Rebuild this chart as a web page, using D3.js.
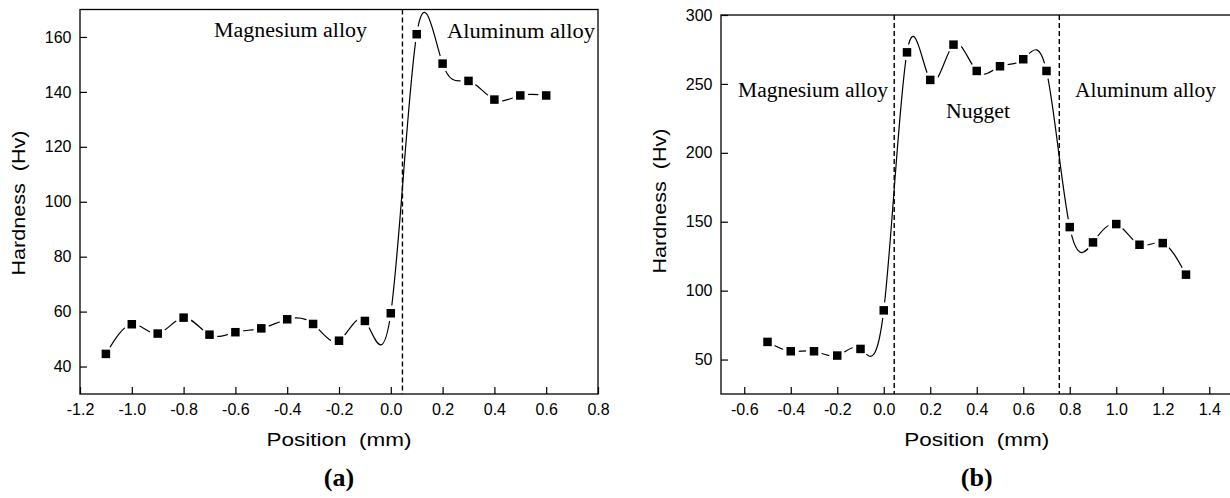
<!DOCTYPE html>
<html>
<head>
<meta charset="utf-8">
<script src="https://cdn.jsdelivr.net/npm/d3@7"></script>
<style>
    html, body { margin: 0; padding: 0; background: #fff; }
    svg { display: block; }
    .tick text { font-family: "Liberation Sans", Arial, sans-serif; font-size: 16px; fill: #000; }
    .tick line { stroke: #000; stroke-width: 1.2; }
    .frame { fill: none; stroke: #000; stroke-width: 1.3; }
    .curve { fill: none; stroke: #000; stroke-width: 1.2; }
    .halo { fill: #fff; }
    .marker { fill: #000; }
    .boundary { stroke: #000; stroke-width: 1.4; stroke-dasharray: 5,3; }
    .zone { font-family: "Liberation Serif", "Times New Roman", serif; font-size: 20px; fill: #000; }
    .title { font-family: "Liberation Sans", Arial, sans-serif; font-size: 19px; fill: #000; white-space: pre; }
    .caption { font-family: "Liberation Serif", "Times New Roman", serif; font-size: 26px; font-weight: bold; fill: #000; }
</style>
</head>
<body>
<div id="figure"></div>
<script>
// panel (a): magnesium / aluminum joint
const positionA = [-1.1, -1.0, -0.9, -0.8, -0.7, -0.6, -0.5, -0.4, -0.3, -0.2, -0.1, 0.0, 0.1, 0.2, 0.3, 0.4, 0.5, 0.6];
const hardnessA = [44.6, 55.4, 52.0, 57.8, 51.6, 52.5, 53.9, 57.2, 55.5, 49.4, 56.6, 59.4, 161.0, 150.3, 144.0, 137.2, 138.7, 138.7];
const xTicksA = [-1.2, -1.0, -0.8, -0.6, -0.4, -0.2, 0.0, 0.2, 0.4, 0.6, 0.8];
const yTicksA = [40, 60, 80, 100, 120, 140, 160];
const boundariesA = [0.045];
const zonesA = ["Magnesium alloy", "Aluminum alloy"];

// panel (b): with nugget
const positionB = [-0.5, -0.4, -0.3, -0.2, -0.1, 0.0, 0.1, 0.2, 0.3, 0.4, 0.5, 0.6, 0.7, 0.8, 0.9, 1.0, 1.1, 1.2, 1.3];
const hardnessB = [62.8, 56.0, 56.0, 52.9, 57.7, 85.7, 272.9, 252.9, 278.5, 259.4, 262.8, 267.9, 259.4, 146.1, 135.0, 148.3, 133.3, 134.5, 111.6];
const xTicksB = [-0.6, -0.4, -0.2, 0.0, 0.2, 0.4, 0.6, 0.8, 1.0, 1.2, 1.4];
const yTicksB = [50, 100, 150, 200, 250, 300];
const boundariesB = [0.045, 0.755];
const zonesB = ["Magnesium alloy", "Nugget", "Aluminum alloy"];

const xTitle = "Position  (mm)";
const yTitle = "Hardness  (Hv)";

(function () {
    "use strict";

    const width = 1230;
    const height = 498;

    const panels = [
        {
            left: 80, right: 598, top: 9.5, bottom: 394,
            xDomain: [-1.2, 0.8], yDomain: [30, 170],
            x: positionA, y: hardnessA,
            xTicks: xTicksA, yTicks: yTicksA,
            boundaries: boundariesA,
            zones: zonesA,
            zoneLayout: [
                { x: 214, y: 37, w: 153 },
                { x: 447, y: 38, w: 148 }
            ],
            yTitleAt: { x: 25, y: 203 },
            caption: "(a)"
        },
        {
            left: 721, right: 1232.5, top: 15, bottom: 394,
            xDomain: [-0.7, 1.5], yDomain: [25, 300],
            x: positionB, y: hardnessB,
            xTicks: xTicksB, yTicks: yTicksB,
            boundaries: boundariesB,
            zones: zonesB,
            zoneLayout: [
                { x: 738, y: 97, w: 150 },
                { x: 946, y: 118, w: 64 },
                { x: 1075, y: 97, w: 141 }
            ],
            yTitleAt: { x: 666, y: 201 },
            caption: "(b)"
        }
    ];

    function drawPanel(svg, panel) {
        const xScale = d3.scaleLinear()
            .domain(panel.xDomain)
            .range([panel.left, panel.right]);

        const yScale = d3.scaleLinear()
            .domain(panel.yDomain)
            .range([panel.bottom, panel.top]);

        const canvas = svg.append("g")
            .attr("class", "panel");

        const xAxis = d3.axisBottom(xScale)
            .tickValues(panel.xTicks)
            .tickFormat(d => d.toFixed(1))
            .tickSizeInner(-7)
            .tickSizeOuter(0)
            .tickPadding(10);

        canvas.append("g")
            .attr("class", "axis x-axis")
            .attr("transform", `translate(0,${panel.bottom})`)
            .call(xAxis)
            .call(g => g.select(".domain").remove());

        const yAxis = d3.axisLeft(yScale)
            .tickValues(panel.yTicks)
            .tickFormat(d3.format("d"))
            .tickSizeInner(-7)
            .tickSizeOuter(0)
            .tickPadding(8.5);

        canvas.append("g")
            .attr("class", "axis y-axis")
            .attr("transform", `translate(${panel.left},0)`)
            .call(yAxis)
            .call(g => g.select(".domain").remove());

        canvas.selectAll(".axis")
            .attr("font-size", null)
            .attr("font-family", null);

        const points = panel.x.map((d, i) => ({ x: d, y: panel.y[i] }));

        const line = d3.line()
            .x(d => xScale(d.x))
            .y(d => yScale(d.y))
            .curve(d3.curveNatural);

        canvas.append("path")
            .attr("class", "curve")
            .attr("d", line(points));

        // white halo leaves the gap between curve and symbol
        canvas.selectAll(".halo")
            .data(points)
            .enter()
            .append("circle")
            .attr("class", "halo")
            .attr("cx", d => xScale(d.x))
            .attr("cy", d => yScale(d.y))
            .attr("r", 8);

        canvas.selectAll(".marker")
            .data(points)
            .enter()
            .append("rect")
            .attr("class", "marker")
            .attr("x", d => xScale(d.x) - 4.25)
            .attr("y", d => yScale(d.y) - 4.25)
            .attr("width", 8.5)
            .attr("height", 8.5);

        canvas.selectAll(".boundary")
            .data(panel.boundaries)
            .enter()
            .append("line")
            .attr("class", "boundary")
            .attr("x1", d => xScale(d))
            .attr("x2", d => xScale(d))
            .attr("y1", panel.top)
            .attr("y2", panel.bottom);

        canvas.append("rect")
            .attr("class", "frame")
            .attr("x", panel.left)
            .attr("y", panel.top)
            .attr("width", panel.right - panel.left)
            .attr("height", panel.bottom - panel.top);

        panel.zones.forEach((name, i) => {
            const at = panel.zoneLayout[i];
            canvas.append("text")
                .attr("class", "zone")
                .attr("x", at.x)
                .attr("y", at.y)
                .attr("textLength", at.w)
                .attr("lengthAdjust", "spacingAndGlyphs")
                .text(name);
        });

        const midX = (panel.left + panel.right) / 2;

        canvas.append("text")
            .attr("class", "title")
            .attr("x", midX)
            .attr("y", 446)
            .attr("text-anchor", "middle")
            .attr("textLength", 145)
            .attr("lengthAdjust", "spacingAndGlyphs")
            .text(xTitle);

        canvas.append("text")
            .attr("class", "title")
            .attr("x", panel.yTitleAt.x)
            .attr("y", panel.yTitleAt.y)
            .attr("text-anchor", "middle")
            .attr("transform", `rotate(-90,${panel.yTitleAt.x},${panel.yTitleAt.y})`)
            .attr("textLength", 145)
            .attr("lengthAdjust", "spacingAndGlyphs")
            .text(yTitle);

        canvas.append("text")
            .attr("class", "caption")
            .attr("x", midX)
            .attr("y", 486)
            .attr("text-anchor", "middle")
            .text(panel.caption);
    }

    const svg = d3.select("#figure")
        .append("svg")
        .attr("width", width)
        .attr("height", height);

    for (const panel of panels) {
        drawPanel(svg, panel);
    }
}());
</script>
</body>
</html>
